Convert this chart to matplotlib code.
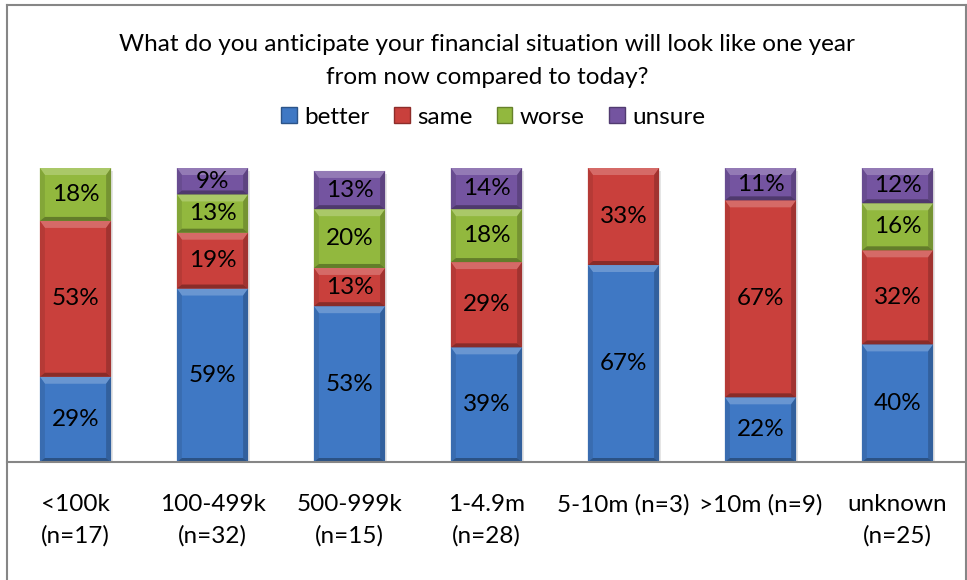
import matplotlib
matplotlib.use("Agg")
import matplotlib.pyplot as plt
from matplotlib.patches import Polygon, Rectangle
from matplotlib.lines import Line2D
import matplotlib.colors as mcolors
import numpy as np

categories = ["<100k\n(n=17)", "100-499k\n(n=32)", "500-999k\n(n=15)", "1-4.9m\n(n=28)",
              "5-10m (n=3)", ">10m (n=9)", "unknown\n(n=25)"]
series_names = ["better", "same", "worse", "unsure"]
better = [29, 59, 53, 39, 67, 22, 40]
same = [53, 19, 13, 29, 33, 67, 32]
worse = [18, 13, 20, 18, 0, 0, 16]
unsure = [0, 9, 13, 14, 0, 11, 12]
series = [better, same, worse, unsure]
colors = ["#3f78c4", "#c9403c", "#92b83e", "#7454a0"]
title = "What do you anticipate your financial situation will look like one year\nfrom now compared to today?"

plt.rcParams['font.family'] = ['Lato', 'DejaVu Sans']

W, H = 967, 580
fig = plt.figure(figsize=(W / 100, H / 100), dpi=100)
ax_left, ax_right, ax_bottom, ax_top = 7, 966, 462, 168
ax = fig.add_axes([ax_left / W, 1 - ax_bottom / H, (ax_right - ax_left) / W, (ax_bottom - ax_top) / H])
ax.set_xlim(-0.5, len(categories) - 0.5)
ax.set_ylim(0, 100)

px_x = (ax_right - ax_left) / len(categories)  # px per data unit x
px_y = (ax_bottom - ax_top) / 100.0            # px per data unit y

bar_w = 0.52
FS = 17.5


def shade(c, f):
    r, g, b = mcolors.to_rgb(c)
    if f >= 0:
        return (r + (1 - r) * f, g + (1 - g) * f, b + (1 - b) * f)
    f = -f
    return (r * (1 - f), g * (1 - f), b * (1 - f))


x = np.arange(len(categories))
bottoms = np.zeros(len(categories))
for s_vals, col in zip(series, colors):
    vals = np.array(s_vals, dtype=float)
    bars = ax.bar(x, vals, bar_w, bottom=bottoms, color=col, edgecolor="none", zorder=3)
    for rect, v in zip(bars, vals):
        if v <= 0:
            continue
        x0, y0 = rect.get_x(), rect.get_y()
        x1, y1 = x0 + rect.get_width(), y0 + rect.get_height()
        bs = 5 / px_x
        bt = 7 / px_y
        bb = 4 / px_y
        # shadow
        ax.add_patch(Rectangle((x0 + 2 / px_x, y0 - 3 / px_y), x1 - x0, y1 - y0,
                               facecolor=(0, 0, 0, 0.10), edgecolor="none", zorder=2))
        ax.add_patch(Polygon([(x0, y1), (x1, y1), (x1 - bs, y1 - bt), (x0 + bs, y1 - bt)],
                             closed=True, facecolor=shade(col, 0.22), edgecolor="none", zorder=4))
        ax.add_patch(Polygon([(x0, y1), (x0 + bs, y1 - bt), (x0 + bs, y0 + bb), (x0, y0)],
                             closed=True, facecolor=shade(col, -0.10), edgecolor="none", zorder=4))
        ax.add_patch(Polygon([(x1, y1), (x1 - bs, y1 - bt), (x1 - bs, y0 + bb), (x1, y0)],
                             closed=True, facecolor=shade(col, -0.20), edgecolor="none", zorder=4))
        ax.add_patch(Polygon([(x0, y0), (x0 + bs, y0 + bb), (x1 - bs, y0 + bb), (x1, y0)],
                             closed=True, facecolor=shade(col, -0.32), edgecolor="none", zorder=4))
        ax.text(x0 + (x1 - x0) / 2, y0 + (y1 - y0) / 2, f"{int(v)}%", ha="center", va="center",
                fontsize=FS, color="black", zorder=5)
    bottoms += vals

ax.set_xticks(x)
ax.set_xticklabels(categories, fontsize=FS, linespacing=1.6)
ax.tick_params(axis="x", length=0, pad=23)
ax.set_yticks([])
for side in ["left", "right", "top"]:
    ax.spines[side].set_visible(False)
ax.spines["bottom"].set_color("#868686")
ax.spines["bottom"].set_linewidth(1.5)
ax.spines["bottom"].set_zorder(6)

# figure frame
fig.add_artist(Line2D([ax_left / W, ax_left / W], [0, 1 - 5 / H], transform=fig.transFigure,
                      color="#868686", linewidth=1.5))
fig.add_artist(Line2D([ax_left / W, ax_right / W], [1 - 5 / H, 1 - 5 / H], transform=fig.transFigure,
                      color="#868686", linewidth=1.5))
fig.add_artist(Line2D([ax_right / W, ax_right / W], [0, 1 - 5 / H], transform=fig.transFigure,
                      color="#868686", linewidth=1.5))

fig.text(487 / W, 1 - 61 / H, title, ha="center", va="center", fontsize=FS, linespacing=1.7)

handles = [Rectangle((0, 0), 1, 1, facecolor=c, edgecolor=shade(c, -0.3), linewidth=1) for c in colors]
fig.legend(handles, series_names, loc="center", bbox_to_anchor=(493 / W, 1 - 117 / H), ncol=4,
           frameon=False, fontsize=FS, handlelength=0.65, handleheight=0.65, handletextpad=0.3,
           columnspacing=1.0)

fig.savefig("out.png", dpi=100, facecolor="white")
